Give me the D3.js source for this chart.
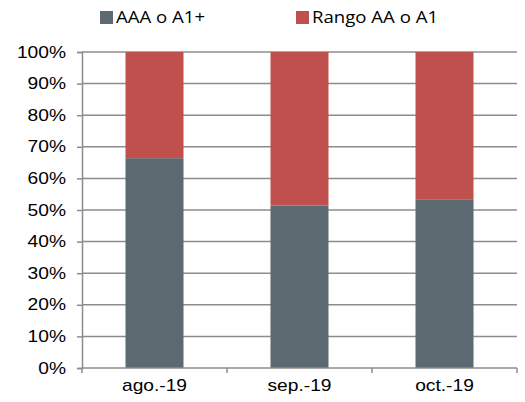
<!DOCTYPE html>
<html>
<head>
<meta charset="utf-8">
<script src="https://cdn.jsdelivr.net/npm/d3@7"></script>
<style>
  body { margin: 0; background: #fff; }
</style>
</head>
<body>
<div id="chart"></div>
<script>
const categories = ["ago.-19", "sep.-19", "oct.-19"];
const seriesNames = ["AAA o A1+", "Rango AA o A1"];
const aaaValues = [66.4, 51.4, 53.4];
const aaValues = [33.6, 48.6, 46.6];
const yTicks = [0, 10, 20, 30, 40, 50, 60, 70, 80, 90, 100];
const colors = ["#5d6970", "#c0504d"];

const width = 525, height = 402;
const margin = { top: 52, right: 8, bottom: 34, left: 82 };
const stretchX = 1.2; // the original image is widened horizontally

const svg = d3.select("#chart").append("svg")
    .attr("width", width)
    .attr("height", height);

const rows = categories.map((c, i) => ({ cat: c, a: aaaValues[i], b: aaValues[i] }));
const stacked = d3.stack().keys(["a", "b"])(rows);

const x = d3.scaleBand()
    .domain(categories)
    .range([margin.left, width - margin.right])
    .paddingInner(0.6)
    .paddingOuter(0.3);

const y = d3.scaleLinear()
    .domain([0, 100])
    .range([height - margin.bottom, margin.top]);

// widen a text around its own x
function stretch(sel) {
    sel.each(function () {
        const xx = +this.getAttribute("x") || 0;
        d3.select(this).attr("transform",
            "translate(" + xx + ",0) scale(" + stretchX + ",1) translate(" + (-xx) + ",0)");
    });
}

// gridlines
svg.append("g")
    .selectAll("line")
    .data(yTicks.filter(d => d > 0))
    .enter()
    .append("line")
    .attr("x1", margin.left)
    .attr("x2", width - margin.right)
    .attr("y1", d => y(d))
    .attr("y2", d => y(d))
    .attr("stroke", "#8c8c8c")
    .attr("stroke-width", 1.5);

// bars
svg.append("g")
    .selectAll("g")
    .data(stacked)
    .enter()
    .append("g")
    .attr("fill", (d, i) => colors[i])
    .selectAll("rect")
    .data(d => d)
    .enter()
    .append("rect")
    .attr("x", d => x(d.data.cat))
    .attr("width", x.bandwidth())
    .attr("y", d => y(d[1]))
    .attr("height", d => y(d[0]) - y(d[1]));

// y axis
const yAxis = svg.append("g")
    .attr("transform", "translate(" + margin.left + ",0)")
    .call(d3.axisLeft(y).tickValues(yTicks).tickFormat(d => d + "%").tickSize(5).tickPadding(11));
yAxis.select(".domain").attr("stroke", "#8c8c8c").attr("stroke-width", 1.5);
yAxis.selectAll(".tick line").attr("stroke", "#8c8c8c").attr("stroke-width", 1.5);
yAxis.selectAll("text")
    .attr("font-family", "Liberation Sans, Arial, sans-serif")
    .attr("font-size", 16)
    .attr("fill", "#000")
    .call(stretch);

// x axis
const x0 = y(0);
const xAxis = svg.append("g");
xAxis.append("line")
    .attr("x1", margin.left)
    .attr("x2", width - margin.right)
    .attr("y1", x0)
    .attr("y2", x0)
    .attr("stroke", "#8c8c8c")
    .attr("stroke-width", 1.5);

const bounds = d3.range(categories.length + 1).map(i => margin.left + i * (width - margin.right - margin.left) / categories.length);
xAxis.selectAll(".xt")
    .data(bounds)
    .enter()
    .append("line")
    .attr("x1", d => d)
    .attr("x2", d => d)
    .attr("y1", x0)
    .attr("y2", x0 + 5)
    .attr("stroke", "#8c8c8c")
    .attr("stroke-width", 1.5);

xAxis.selectAll("text")
    .data(categories)
    .enter()
    .append("text")
    .attr("x", d => x(d) + x.bandwidth() / 2)
    .attr("y", x0 + 23)
    .attr("text-anchor", "middle")
    .attr("font-family", "Liberation Sans, Arial, sans-serif")
    .attr("font-size", 16)
    .attr("fill", "#000")
    .text(d => d)
    .call(stretch);

// legend
const legendX = [100, 296];
const legend = svg.append("g")
    .selectAll("g")
    .data(seriesNames)
    .enter()
    .append("g")
    .attr("transform", (d, i) => "translate(" + legendX[i] + ",10)");
legend.append("rect")
    .attr("width", 13)
    .attr("height", 13)
    .attr("y", 1)
    .attr("fill", (d, i) => colors[i]);
legend.append("text")
    .attr("x", 16)
    .attr("y", 13)
    .attr("font-family", "Open Sans, sans-serif")
    .attr("font-size", 15.5)
    .attr("fill", "#000")
    .text(d => d)
    .call(stretch);
</script>
</body>
</html>
